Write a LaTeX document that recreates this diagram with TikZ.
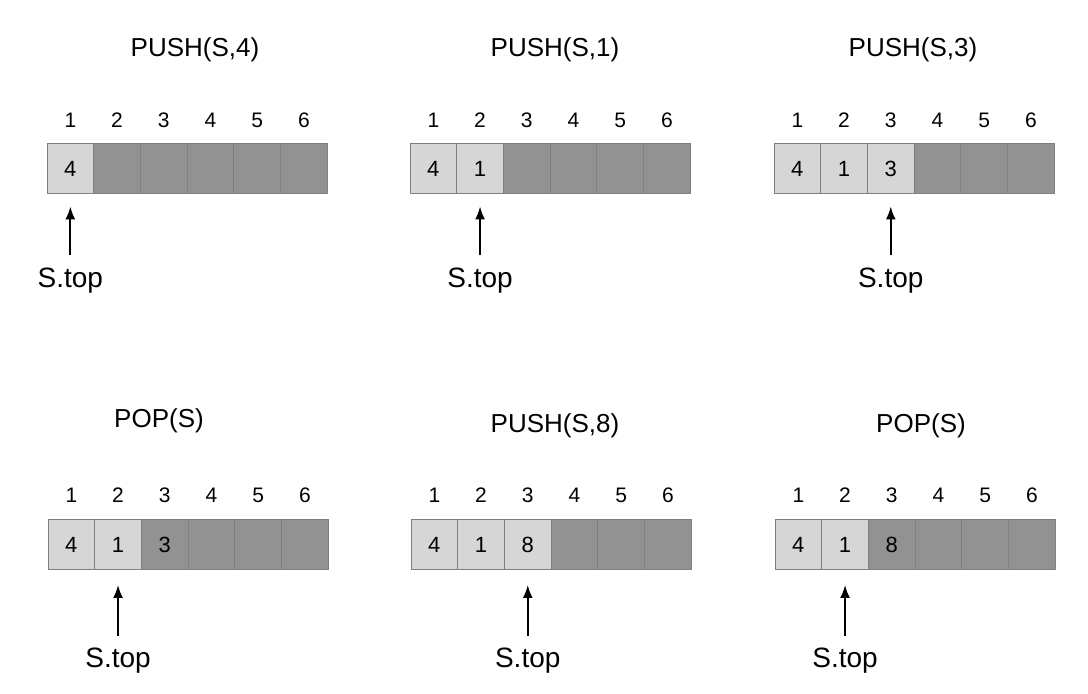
\documentclass[tikz,border=0pt]{standalone}
\usepackage{fontspec}
\setmainfont{Liberation Sans}
\usetikzlibrary{positioning}
\usetikzlibrary{arrows.meta}
\definecolor{fullcell}{HTML}{D6D6D6}
\definecolor{emptycell}{HTML}{929292}
\definecolor{cellline}{HTML}{7F7F7F}

\begin{document}
\begin{tikzpicture}
    [
    x=1pt, y=1pt,
    cell/.style={rectangle,draw=cellline,line width=1pt,fill=emptycell,minimum width=46.7pt,minimum height=50pt,inner sep=0pt,font=\fontsize{22}{22}\selectfont},
    full/.style={fill=fullcell},
    index/.style={inner sep=0pt,font=\fontsize{21}{21}\selectfont},
    title/.style={inner sep=0pt,font=\fontsize{26}{26}\selectfont},
    pointer/.style={inner sep=0pt,font=\fontsize{28}{28}\selectfont},
    ptr/.style={-{Latex[length=13pt,width=10pt]},line width=1.8pt,shorten <=12pt,shorten >=12pt},
    ]
    \useasboundingbox (0,0) rectangle (1088,694);

    % PUSH(S,4)
    \node (t1) at (195,644) [title] {PUSH(S,4)};
    \foreach \i/\v/\s in {1/4/full,2//,3//,4//,5//,6//}{
      \node (a1c\i) at ({47+46.7*\i-23.35},525) [cell,\s] {\v};
      \node (n1c\i) [index, above=16pt of a1c\i] {\i};
    }
    \node (s1) [pointer, below=73pt of a1c1] {S.top};
    \draw [ptr] (s1) to (a1c1);

    % PUSH(S,1)
    \node (t2) at (555,644) [title] {PUSH(S,1)};
    \foreach \i/\v/\s in {1/4/full,2/1/full,3//,4//,5//,6//}{
      \node (a2c\i) at ({410+46.7*\i-23.35},525) [cell,\s] {\v};
      \node (n2c\i) [index, above=16pt of a2c\i] {\i};
    }
    \node (s2) [pointer, below=73pt of a2c2] {S.top};
    \draw [ptr] (s2) to (a2c2);

    % PUSH(S,3)
    \node (t3) at (913,644) [title] {PUSH(S,3)};
    \foreach \i/\v/\s in {1/4/full,2/1/full,3/3/full,4//,5//,6//}{
      \node (a3c\i) at ({774+46.7*\i-23.35},525) [cell,\s] {\v};
      \node (n3c\i) [index, above=16pt of a3c\i] {\i};
    }
    \node (s3) [pointer, below=73pt of a3c3] {S.top};
    \draw [ptr] (s3) to (a3c3);

    % POP(S)
    \node (t4) at (159,273) [title] {POP(S)};
    \foreach \i/\v/\s in {1/4/full,2/1/full,3/3/,4//,5//,6//}{
      \node (a4c\i) at ({48+46.7*\i-23.35},149.5) [cell,\s] {\v};
      \node (n4c\i) [index, above=16pt of a4c\i] {\i};
    }
    \node (s4) [pointer, below=78pt of a4c2] {S.top};
    \draw [ptr,shorten >=15pt] (s4) to (a4c2);

    % PUSH(S,8)
    \node (t5) at (555,268) [title] {PUSH(S,8)};
    \foreach \i/\v/\s in {1/4/full,2/1/full,3/8/full,4//,5//,6//}{
      \node (a5c\i) at ({411+46.7*\i-23.35},149.5) [cell,\s] {\v};
      \node (n5c\i) [index, above=16pt of a5c\i] {\i};
    }
    \node (s5) [pointer, below=78pt of a5c3] {S.top};
    \draw [ptr,shorten >=15pt] (s5) to (a5c3);

    % POP(S)
    \node (t6) at (921,268) [title] {POP(S)};
    \foreach \i/\v/\s in {1/4/full,2/1/full,3/8/,4//,5//,6//}{
      \node (a6c\i) at ({775+46.7*\i-23.35},149.5) [cell,\s] {\v};
      \node (n6c\i) [index, above=16pt of a6c\i] {\i};
    }
    \node (s6) [pointer, below=78pt of a6c2] {S.top};
    \draw [ptr,shorten >=15pt] (s6) to (a6c2);
  \end{tikzpicture}
\end{document}
